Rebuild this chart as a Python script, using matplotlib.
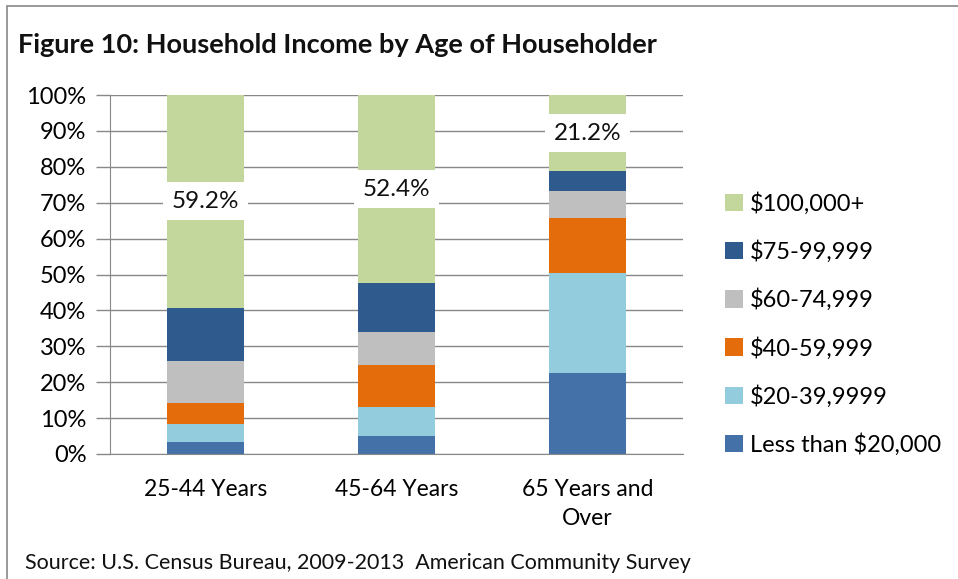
import numpy as np
import matplotlib
matplotlib.use("Agg")
import matplotlib.pyplot as plt
from matplotlib.patches import Rectangle

plt.rcParams['font.family'] = ['Lato', 'DejaVu Sans']

# data (percent of households)
ages = ["25-44 Years", "45-64 Years", "65 Years and\nOver"]
brackets = ["Less than $20,000", "$20-39,9999", "$40-59,999",
            "$60-74,999", "$75-99,999", "$100,000+"]
under_20k = [3.4, 5.0, 22.5]
k20_40 = [4.9, 8.0, 27.8]
k40_60 = [5.8, 11.8, 15.5]
k60_75 = [11.9, 9.3, 7.5]
k75_100 = [14.8, 13.5, 5.5]
over_100k = [59.2, 52.4, 21.2]
top_labels = ["59.2%", "52.4%", "21.2%"]
y_ticks = [0, 10, 20, 30, 40, 50, 60, 70, 80, 90, 100]

colors = ["#4371A8", "#93CDDD", "#E46C0A", "#BFBFBF", "#2E5A8D", "#C3D69B"]

W, H = 958, 579
fig = plt.figure(figsize=(W / 100, H / 100), dpi=100)
fig.patches.append(Rectangle((7 / W, -0.1), 1.2, (H - 6) / H + 0.1,
                             transform=fig.transFigure, fill=False,
                             edgecolor="#888888", lw=1.2))

ax = fig.add_axes([110 / W, (H - 454) / H, (683 - 110) / W, (454 - 95) / H])

series = [under_20k, k20_40, k40_60, k60_75, k75_100, over_100k]
x = np.arange(len(ages))
bottom = np.zeros(len(ages))
for vals, col, lab in zip(series, colors, brackets):
    ax.bar(x, vals, width=0.4, bottom=bottom, color=col, label=lab, zorder=2)
    bottom += np.array(vals)

# labels on the top segment, white box hides the middle of the bar
for i, txt in enumerate(top_labels):
    yc = (bottom[i] - over_100k[i]) + over_100k[i] / 2
    ax.text(x[i], yc, txt, ha="center", va="center", fontsize=17.5, zorder=3,
            color="#111111",
            bbox=dict(boxstyle="square,pad=0.35", fc="white", ec="none"))

ax.set_xlim(-0.5, 2.5)
ax.set_ylim(0, 100)
ax.set_yticks(y_ticks)
ax.set_yticklabels([f"{t}%" for t in y_ticks], fontsize=17)
ax.set_xticks(x)
ax.set_xticklabels(ages, fontsize=16.5, linespacing=1.45)
ax.tick_params(axis="x", length=0, pad=18)
ax.tick_params(axis="y", length=10, width=1, color="#888888", pad=7)
ax.yaxis.grid(True, color="#888888", lw=1, zorder=0)
ax.set_axisbelow(True)
for s in ["top", "right"]:
    ax.spines[s].set_visible(False)
ax.spines["left"].set_color("#888888")
ax.spines["bottom"].set_color("#888888")

h, l = ax.get_legend_handles_labels()
fig.legend(h[::-1], l[::-1], loc="upper left",
           bbox_to_anchor=(704 / W, 1 - 171 / H), frameon=False,
           fontsize=17, handlelength=0.75, handleheight=0.75,
           handletextpad=0.3, labelspacing=1.08)

fig.text(18 / W, 1 - 45 / H, "Figure 10: Household Income by Age of Householder",
         fontsize=19.5, fontweight="bold", va="center", color="#111111")
fig.text(25 / W, 1 - 563 / H,
         "Source: U.S. Census Bureau, 2009-2013  American Community Survey",
         fontsize=15.5, va="center", color="#111111")

fig.savefig("out.png", dpi=100)
